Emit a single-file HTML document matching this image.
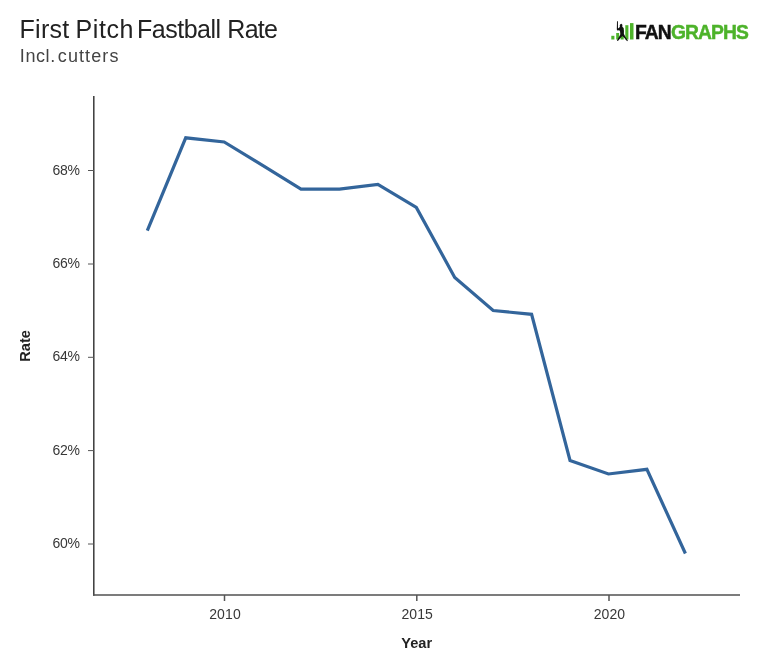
<!DOCTYPE html>
<html><head><meta charset="utf-8">
<style>
html,body{margin:0;padding:0;background:#fff;width:768px;height:672px;overflow:hidden}
svg{display:block;will-change:transform}
text{font-family:"Liberation Sans",sans-serif}
</style></head>
<body>
<svg width="768" height="672" viewBox="0 0 768 672">
<rect width="768" height="672" fill="#fff"/>
<!-- title -->
<g font-size="25" fill="#222">
<text x="19.5" y="38.1" letter-spacing="0.28">First</text>
<text x="75.5" y="38.1" letter-spacing="0.6">Pitch</text>
<text x="137" y="38.1" letter-spacing="-0.49">Fastball</text>
<text x="227.3" y="38.1" letter-spacing="-0.7">Rate</text>
</g>
<g font-size="18" fill="#444">
<text x="19.8" y="62.1" letter-spacing="0.6">Incl.</text>
<text x="57.8" y="62.1" letter-spacing="1.1">cutters</text>
</g>
<!-- logo -->
<g>
<rect x="611.3" y="35.8" width="3.1" height="3.7" fill="#4db32a"/>
<rect x="616.2" y="33" width="2.9" height="6.5" fill="#4db32a"/>
<rect x="620.6" y="27.8" width="3.1" height="11.7" fill="#4db32a"/>
<rect x="625.3" y="25.2" width="3.1" height="14.3" fill="#4db32a"/>
<rect x="630" y="23.1" width="3.5" height="16.4" fill="#4db32a"/>
<path d="M617.0 21.2 L617.9 21.2 L618.0 28.4 L619.9 27.1 L619.7 25.6 Q620.2 23.7 621.4 23.8 Q622.5 24.2 622.4 25.6 L622.3 26.8 L623.4 28.0 L623.9 31 L623.8 33.8 L625.5 37 L627.9 40.6 L627.1 41.3 L624.2 37.8 L622.3 35.9 L620.5 38 L617.9 40.9 L616.9 40.4 L619.2 36.5 L620.4 34.2 L620.1 31.6 L619.3 30.3 L617.3 30.4 L616.8 29.4 Z" fill="#111"/>
<text x="635" y="38.7" font-size="19.3" font-weight="bold" fill="#111" stroke="#111" stroke-width="0.45" letter-spacing="-0.9">FAN<tspan fill="#4db32a" stroke="#4db32a">GRAPHS</tspan></text>
</g>

<!-- axes -->
<g stroke="#555" fill="none">
<line x1="93.8" y1="96" x2="93.8" y2="595.7" stroke-width="1.5" stroke="#3a3a3a"/>
<line x1="93.1" y1="595" x2="740" y2="595" stroke-width="1.5" stroke="#505050"/>
<line x1="88" y1="170.5" x2="94" y2="170.5" stroke-width="1"/>
<line x1="88" y1="264" x2="94" y2="264" stroke-width="1"/>
<line x1="88" y1="357.3" x2="94" y2="357.3" stroke-width="1"/>
<line x1="88" y1="450.6" x2="94" y2="450.6" stroke-width="1"/>
<line x1="88" y1="544" x2="94" y2="544" stroke-width="1"/>
<line x1="224.5" y1="595" x2="224.5" y2="601" stroke-width="1.5"/>
<line x1="416.8" y1="595" x2="416.8" y2="601" stroke-width="1.5"/>
<line x1="609" y1="595" x2="609" y2="601" stroke-width="1.5"/>
</g>
<g font-size="14" fill="#383838" text-anchor="end" letter-spacing="-0.35">
<text x="79.5" y="174.5">68%</text>
<text x="79.5" y="267.9">66%</text>
<text x="79.5" y="361.2">64%</text>
<text x="79.5" y="454.6">62%</text>
<text x="79.5" y="547.9">60%</text>
</g>
<g font-size="14" fill="#383838" text-anchor="middle" letter-spacing="0.1">
<text x="225" y="619.2">2010</text>
<text x="417.2" y="619.2">2015</text>
<text x="609.4" y="619.2">2020</text>
</g>
<text x="416.7" y="647.9" font-size="14.6" font-weight="bold" fill="#222" text-anchor="middle">Year</text>
<text transform="translate(29.9,345.9) rotate(-90)" x="0" y="0" font-size="14.6" font-weight="bold" fill="#222" text-anchor="middle">Rate</text>

<!-- data line -->
<polyline fill="none" stroke="#33659b" stroke-width="3.2" stroke-linejoin="miter" points="147.30,230.71 185.73,137.80 224.16,142.00 262.59,165.34 301.02,189.16 339.45,189.16 377.88,184.49 416.31,207.37 454.74,277.40 493.17,310.55 531.60,314.29 570.03,460.42 608.46,473.97 646.89,469.30 685.4,553.5"/>
</svg>
</body></html>
